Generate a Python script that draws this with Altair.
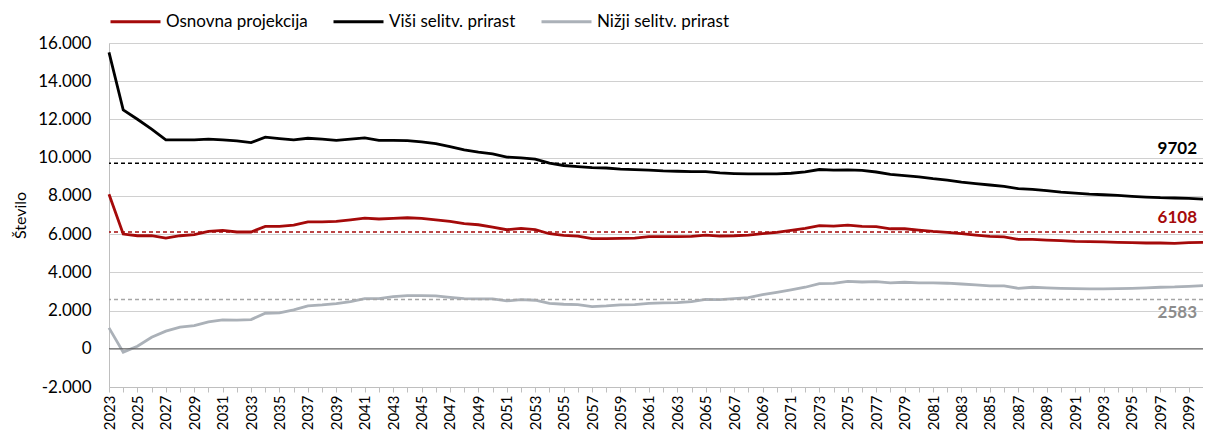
import altair as alt
import pandas as pd

years = list(range(2023, 2101))

osnovna = [8090, 6005, 5915, 5915, 5795, 5915, 5970, 6140, 6195, 6110,
           6110, 6400, 6400, 6475, 6645, 6645, 6665, 6750, 6840, 6790,
           6820, 6855, 6820, 6750, 6665, 6545, 6490, 6370, 6230, 6300,
           6230, 6020, 5935, 5900, 5760, 5760, 5780, 5795, 5865, 5865,
           5865, 5880, 5950, 5900, 5915, 5950, 6020, 6090, 6195, 6300,
           6440, 6420, 6475, 6405, 6390, 6280, 6280, 6210, 6140, 6090,
           6020, 5950, 5880, 5860, 5725, 5725, 5690, 5655, 5620, 5605,
           5590, 5570, 5550, 5535, 5535, 5520, 5550, 5570]

visji = [15510, 12500, 12010, 11490, 10930, 10930, 10930, 10965, 10930, 10875,
         10790, 11070, 11000, 10930, 11015, 10965, 10910, 10965, 11035, 10910,
         10910, 10895, 10825, 10735, 10580, 10405, 10285, 10200, 10030, 9990,
         9920, 9710, 9590, 9535, 9480, 9460, 9400, 9370, 9350, 9310,
         9290, 9270, 9270, 9205, 9170, 9150, 9150, 9150, 9185, 9255,
         9380, 9345, 9360, 9330, 9250, 9130, 9060, 8990, 8900, 8830,
         8725, 8640, 8570, 8500, 8375, 8340, 8270, 8200, 8150, 8095,
         8060, 8025, 7975, 7940, 7905, 7890, 7870, 7835]

nizji = [1095, -175, 135, 605, 920, 1130, 1215, 1410, 1515, 1500,
         1530, 1860, 1875, 2035, 2245, 2295, 2365, 2470, 2625, 2625,
         2730, 2785, 2785, 2765, 2695, 2625, 2610, 2610, 2505, 2575,
         2540, 2380, 2330, 2310, 2210, 2240, 2295, 2310, 2380, 2400,
         2415, 2470, 2590, 2575, 2625, 2680, 2835, 2955, 3080, 3220,
         3410, 3425, 3530, 3495, 3510, 3445, 3480, 3445, 3445, 3430,
         3390, 3340, 3290, 3290, 3165, 3220, 3185, 3165, 3150, 3130,
         3130, 3150, 3165, 3185, 3220, 3235, 3270, 3305]

series_names = ["Osnovna projekcija", "Viši selitv. prirast", "Nižji selitv. prirast"]
series_colors = ["#a50a0a", "#000000", "#abb1b8"]

ref_values = [9702, 6108, 2583]
ref_line_colors = ["#000000", "#a50a0a", "#a6a6a6"]
ref_text_colors = ["#000000", "#a50a0a", "#8c8c8c"]

y_ticks = list(range(-2000, 16001, 2000))

FONT = "Lato"

rows = []
for name, vals in zip(series_names, [osnovna, visji, nizji]):
    for y, v in zip(years, vals):
        rows.append({"leto": y, "vrednost": v, "serija": name})
df = pd.DataFrame(rows)

ref_df = pd.DataFrame({
    "vrednost": ref_values,
    "barva": ref_line_colors,
    "tbarva": ref_text_colors,
    "oznaka": [str(v) for v in ref_values],
    "leto": [2100] * 3,
})

x_scale = alt.Scale(domain=[2023, 2100], nice=False, zero=False)
y_scale = alt.Scale(domain=[-2000, 16000], nice=False)

x_axis = alt.Axis(
    values=years,
    labelExpr="datum.value % 2 == 1 ? format(datum.value, 'd') : ''",
    labelAngle=-90,
    labelFontSize=15,
    labelColor="#000000",
    labelPadding=3,
    tickSize=5,
    tickColor="#bfbfbf",
    domainColor="#bfbfbf",
    grid=False,
    title=None,
    labelOverlap=False,
    labelFont=FONT,
)

y_axis = alt.Axis(
    values=y_ticks,
    labelExpr="datum.value < 0 ? '-' + replace(format(-datum.value, ','), ',', '.') : replace(format(datum.value, ','), ',', '.')",
    labelFontSize=17,
    labelColor="#000000",
    labelPadding=18,
    labelOverlap=False,
    ticks=False,
    domainColor="#bfbfbf",
    gridColor="#d0d0d0",
    gridWidth=1,
    title="Število",
    titleFontSize=16,
    titleFontWeight="normal",
    titleColor="#000000",
    titlePadding=9,
    labelFont=FONT,
    titleFont=FONT,
)

X = alt.X("leto:Q", scale=x_scale, axis=x_axis)
Y = alt.Y("vrednost:Q", scale=y_scale, axis=y_axis)

zero_rule = alt.Chart(pd.DataFrame({"vrednost": [0]})).mark_rule(
    color="#595959", strokeWidth=1
).encode(y=Y)

ref_rules = alt.Chart(ref_df).mark_rule(strokeWidth=1.5, strokeDash=[4, 3]).encode(
    y=Y,
    color=alt.Color("barva:N", scale=None),
)

lines = alt.Chart(df).mark_line(strokeWidth=2.8).encode(
    x=X,
    y=Y,
    color=alt.Color(
        "serija:N",
        scale=alt.Scale(domain=series_names, range=series_colors),
        sort=series_names,
        legend=alt.Legend(
            title=None,
            orient="none",
            legendX=0,
            legendY=-48,
            direction="horizontal",
            symbolType="stroke",
            symbolSize=2500,
            symbolStrokeWidth=3,
            labelFontSize=17,
            labelFont=FONT,
            labelColor="#000000",
            labelOffset=4,
            columnPadding=19,
        ),
    ),
    order=alt.Order("leto:Q"),
)

above = alt.Chart(ref_df).transform_filter("datum.vrednost > 5000").mark_text(
    align="right", baseline="bottom", dx=-6, dy=-5, fontSize=17, fontWeight="bold", font=FONT
).encode(
    x=X,
    y=Y,
    text="oznaka:N",
    color=alt.Color("tbarva:N", scale=None),
)

below = alt.Chart(ref_df).transform_filter("datum.vrednost < 5000").mark_text(
    align="right", baseline="top", dx=-6, dy=6, fontSize=17, fontWeight="bold", font=FONT
).encode(
    x=X,
    y=Y,
    text="oznaka:N",
    color=alt.Color("tbarva:N", scale=None),
)

chart = alt.layer(lines, zero_rule, ref_rules, above, below).properties(
    width=1094,
    height=344,
    autosize=alt.AutoSizeParams(type="none"),
    padding={"left": 101, "top": 35, "right": 0, "bottom": 43},
).configure_view(
    stroke="#bfbfbf", strokeWidth=1
).configure(background="#ffffff")

chart.save("out.html", embed_options={"renderer": "svg", "actions": False})
